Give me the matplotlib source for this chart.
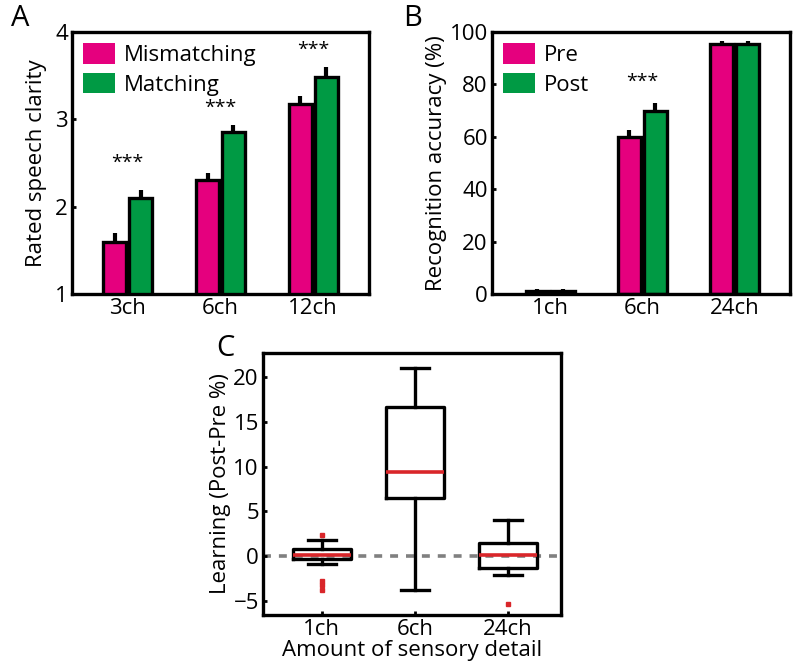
import matplotlib
matplotlib.use("Agg")
import matplotlib.pyplot as plt
import numpy as np

plt.rcParams['font.family'] = ['Open Sans', 'DejaVu Sans']

# Panel A data
a_cats = ["3ch", "6ch", "12ch"]
a_mismatch = [1.60, 2.30, 3.18]
a_match = [2.10, 2.85, 3.48]
a_mismatch_err = [0.10, 0.09, 0.09]
a_match_err = [0.09, 0.08, 0.12]
a_star_y = [2.50, 3.13, 3.80]
a_yticks = [1, 2, 3, 4]

# Panel B data
b_cats = ["1ch", "6ch", "24ch"]
b_pre = [1.0, 60.0, 95.5]
b_post = [1.0, 70.0, 95.5]
b_pre_err = [1.0, 2.5, 1.2]
b_post_err = [1.0, 3.0, 1.2]
b_star_y = 81
b_yticks = [0, 20, 40, 60, 80, 100]

# Panel C data (box statistics)
c_cats = ["1ch", "6ch", "24ch"]
c_med = [0.1, 9.4, 0.1]
c_q1 = [-0.3, 6.5, -1.3]
c_q3 = [0.8, 16.7, 1.5]
c_whislo = [-0.9, -3.8, -2.1]
c_whishi = [1.8, 21.0, 4.0]
c_fliers = [[2.3, -2.8, -3.3, -3.8], [], [-5.4]]
c_yticks = [-5, 0, 5, 10, 15, 20]

PINK = "#E5007E"
GREEN = "#009A44"
W, H = 793, 670
fig = plt.figure(figsize=(W / 100, H / 100), dpi=100)

FS = 16
LW = 2.4


def px_axes(left, top, right, bottom):
    return fig.add_axes([left / W, 1 - bottom / H, (right - left) / W, (bottom - top) / H])


def style(ax):
    for s in ax.spines.values():
        s.set_linewidth(LW)
    ax.tick_params(direction="in", length=3, width=2, labelsize=FS, top=False, right=False, pad=3)


def bar_panel(ax, cats, s1, s2, e1, e2, labels):
    x = np.arange(1, len(cats) + 1)
    off = 0.14
    bw = 0.25
    ax.bar(x - off, s1, bw, color=PINK, edgecolor="black", linewidth=LW, label=labels[0], zorder=2)
    ax.bar(x + off, s2, bw, color=GREEN, edgecolor="black", linewidth=LW, label=labels[1], zorder=2)
    ax.errorbar(x - off, s1, yerr=[np.zeros(len(e1)), e1], fmt="none", ecolor="black", elinewidth=3, capsize=0, zorder=3)
    ax.errorbar(x + off, s2, yerr=[np.zeros(len(e2)), e2], fmt="none", ecolor="black", elinewidth=3, capsize=0, zorder=3)
    ax.set_xticks(x)
    ax.set_xticklabels(cats)
    leg = ax.legend(loc="upper left", frameon=False, fontsize=FS, handlelength=1.45, handleheight=1.05,
                    handletextpad=0.4, labelspacing=0.3, borderaxespad=0.2, borderpad=0.3)
    for h in leg.legend_handles:
        h.set_edgecolor("none")
        h.set_linewidth(0)
    return x


# Panel A
axA = px_axes(72, 32, 369, 294)
x = bar_panel(axA, a_cats, a_mismatch, a_match, a_mismatch_err, a_match_err, ["Mismatching", "Matching"])
axA.set_xlim(0.4, 3.6)
axA.set_ylim(1, 4)
axA.set_yticks(a_yticks)
for xi, yi in zip(x, a_star_y):
    axA.text(xi, yi, "***", ha="center", va="center", fontsize=14)
axA.set_ylabel("Rated speech clarity", fontsize=FS, labelpad=6)
style(axA)
fig.text(20 / W, 1 - 18 / H, "A", fontsize=21, ha="center", va="center")

# Panel B
axB = px_axes(492, 32, 790, 294)
x = bar_panel(axB, b_cats, b_pre, b_post, b_pre_err, b_post_err, ["Pre", "Post"])
axB.set_xlim(0.37, 3.6)
axB.set_ylim(0, 100)
axB.set_yticks(b_yticks)
axB.text(x[1], b_star_y, "***", ha="center", va="center", fontsize=14)
axB.set_ylabel("Recognition accuracy (%)", fontsize=FS, labelpad=2)
style(axB)
fig.text(413 / W, 1 - 18 / H, "B", fontsize=21, ha="center", va="center")

# Panel C
axC = px_axes(263, 353, 561, 615)
stats = []
for i in range(len(c_cats)):
    stats.append(dict(med=c_med[i], q1=c_q1[i], q3=c_q3[i], whislo=c_whislo[i], whishi=c_whishi[i],
                      fliers=c_fliers[i], label=c_cats[i]))
axC.axhline(0, color="#808080", linestyle=(0, (2.2, 2.2)), linewidth=2.6, zorder=1)
axC.bxp(stats, positions=[1, 2, 3], widths=0.62, showfliers=True,
        boxprops=dict(color="black", linewidth=LW),
        whiskerprops=dict(color="black", linewidth=LW),
        capprops=dict(color="black", linewidth=LW),
        medianprops=dict(color="#D9262A", linewidth=2.6),
        flierprops=dict(marker="s", markersize=2.5, markerfacecolor="#D9262A", markeredgecolor="#D9262A",
                        linestyle="none"),
        capwidths=0.3)
axC.set_xlim(0.37, 3.57)
axC.set_ylim(-6.6, 22.7)
axC.set_yticks(c_yticks)
axC.set_xticks([1, 2, 3])
axC.set_xticklabels(c_cats)
axC.set_ylabel("Learning (Post-Pre %)", fontsize=FS, labelpad=2)
axC.set_xlabel("Amount of sensory detail", fontsize=FS, labelpad=0)
style(axC)
fig.text(225 / W, 1 - 349 / H, "C", fontsize=21, ha="center", va="center")

fig.savefig("out.png", dpi=100)
